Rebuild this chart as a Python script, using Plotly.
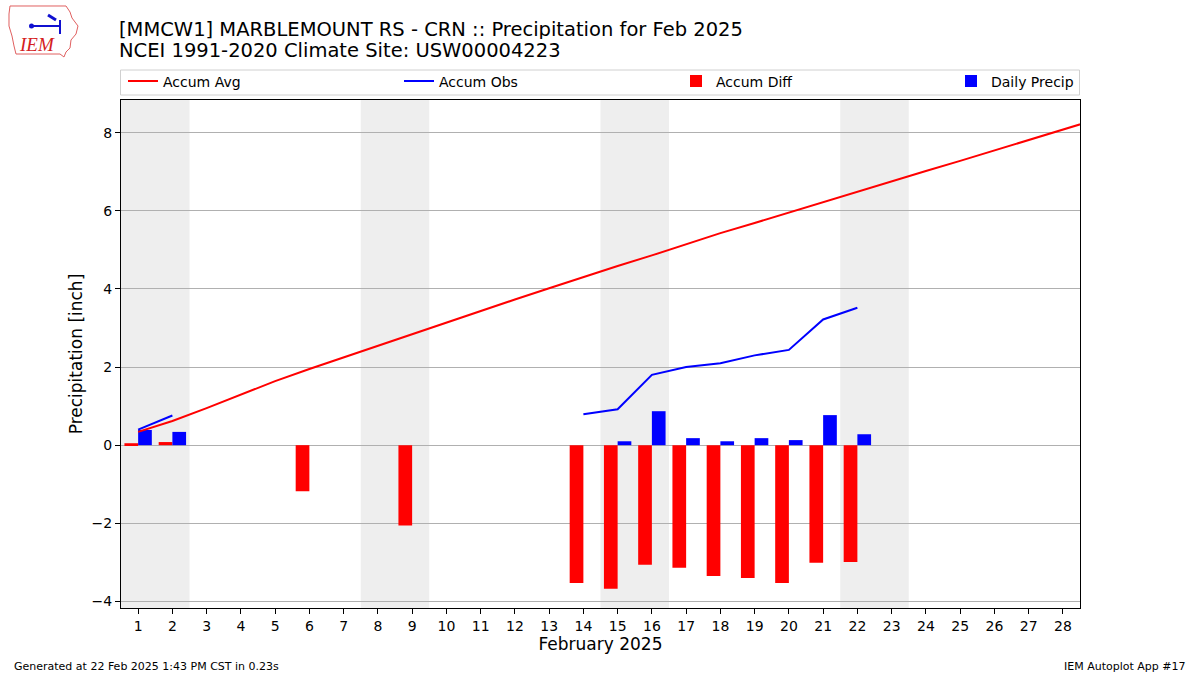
import plotly.graph_objects as go

# ---- data ----
days = list(range(1, 30))
accum_avg = [0.34, 0.62, 0.95, 1.30, 1.64, 1.95, 2.25, 2.55, 2.85, 3.15,
             3.45, 3.73, 4.02, 4.31, 4.59, 4.86, 5.14, 5.43, 5.69, 5.96,
             6.23, 6.50, 6.76, 7.02, 7.28, 7.55, 7.81, 8.08, 8.35]
obs_days = list(range(1, 23))
accum_obs = [0.40, 0.76, None, None, None, None, None, None, None, None,
             None, None, None, 0.79, 0.92, 1.80, 2.00, 2.10, 2.30, 2.44,
             3.22, 3.52]
diff_days = [1, 2, 6, 9, 14, 15, 16, 17, 18, 19, 20, 21, 22]
accum_diff = [0.05, 0.08, -1.18, -2.06, -3.53, -3.68, -3.06, -3.14, -3.35,
              -3.40, -3.53, -3.01, -2.99]
precip_days = [1, 2, 15, 16, 17, 18, 19, 20, 21, 22]
daily_precip = [0.39, 0.34, 0.10, 0.87, 0.18, 0.10, 0.18, 0.13, 0.77, 0.28]
weekend_saturdays = [1, 8, 15, 22]   # Feb 2025 Saturdays
tick_days = list(range(1, 29))

title1 = "[MMCW1] MARBLEMOUNT RS - CRN :: Precipitation for Feb 2025"
title2 = "NCEI 1991-2020 Climate Site: USW00004223"
footer_left = "Generated at 22 Feb 2025 1:43 PM CST in 0.23s"
footer_right = "IEM Autoplot App #17"

FONT = "DejaVu Sans"
W, HT = 1200, 675
L, R, T, B = 121, 120, 100, 67
PW = W - L - R
PH = HT - T - B


def xp(px):
    return (px - L) / PW


def yp(py):
    return (HT - B - py) / PH


fig = go.Figure()

fig.add_trace(go.Bar(x=diff_days, y=accum_diff, name="Accum Diff",
                     marker=dict(color="#ff0000", line=dict(width=0)),
                     width=0.4, offset=-0.4, legend="legend3"))
fig.add_trace(go.Bar(x=precip_days, y=daily_precip, name="Daily Precip",
                     marker=dict(color="#0000ff", line=dict(width=0)),
                     width=0.4, offset=0.0, legend="legend4"))
fig.add_trace(go.Scatter(x=days, y=accum_avg, name="Accum Avg", mode="lines",
                         line=dict(color="#ff0000", width=2), legend="legend"))
fig.add_trace(go.Scatter(x=obs_days, y=accum_obs, name="Accum Obs", mode="lines",
                         line=dict(color="#0000ff", width=2), connectgaps=False,
                         legend="legend2"))

shapes = []
for s in weekend_saturdays:
    shapes.append(dict(type="rect", xref="x", yref="paper", x0=s - 0.5, x1=s + 1.5,
                       y0=0, y1=1, fillcolor="#eeeeee", line=dict(width=0),
                       layer="below"))
# legend frame
shapes.append(dict(type="rect", xref="paper", yref="paper", x0=xp(120.5), x1=xp(1079.5),
                   y0=yp(95), y1=yp(70), line=dict(color="#d0d0d0", width=1),
                   fillcolor="rgba(255,255,255,0)", layer="above"))
# logo outline (decorative)
logo_pts = [(10, 6), (66, 6), (70, 12), (72, 18), (78, 26), (76, 34), (71, 40),
            (70, 48), (66, 52), (64, 57), (60, 54), (16, 54), (14, 46), (12, 36),
            (9, 26), (9, 14)]
path = "M " + " L ".join(f"{xp(x):.5f},{yp(y):.5f}" for x, y in logo_pts) + " Z"
shapes.append(dict(type="path", xref="paper", yref="paper", path=path,
                   line=dict(color="#e06060", width=1)))
shapes.append(dict(type="line", xref="paper", yref="paper", x0=xp(31), x1=xp(60),
                   y0=yp(26), y1=yp(26), line=dict(color="#1010d0", width=2)))
shapes.append(dict(type="line", xref="paper", yref="paper", x0=xp(60), x1=xp(60),
                   y0=yp(20), y1=yp(34), line=dict(color="#1010d0", width=2)))
shapes.append(dict(type="line", xref="paper", yref="paper", x0=xp(48), x1=xp(56),
                   y0=yp(15), y1=yp(20), line=dict(color="#1010d0", width=3)))
shapes.append(dict(type="circle", xref="paper", yref="paper", x0=xp(29), x1=xp(34),
                   y0=yp(28.5), y1=yp(23.5), fillcolor="#1010d0",
                   line=dict(color="#1010d0", width=0)))
fig.update_layout(shapes=shapes)

annotations = [
    dict(text=title1, x=xp(117.5), y=yp(29)),
    dict(text=title2, x=xp(117.5), y=yp(50)),
]
for a in annotations:
    a.update(xref="paper", yref="paper", xanchor="left", yanchor="middle",
             showarrow=False, height=20, borderpad=0,
             font=dict(family=FONT, size=19.5, color="black"))
annotations += [
    dict(text=footer_left, x=xp(12), y=yp(666), xref="paper", yref="paper",
         xanchor="left", yanchor="middle", showarrow=False,
         font=dict(family=FONT, size=11, color="black")),
    dict(text=footer_right, x=xp(1188), y=yp(666), xref="paper", yref="paper",
         xanchor="right", yanchor="middle", showarrow=False,
         font=dict(family=FONT, size=11, color="black")),
    dict(text="<i>IEM</i>", x=xp(37), y=yp(45), xref="paper", yref="paper",
         xanchor="center", yanchor="middle", showarrow=False,
         font=dict(family="Liberation Serif", size=19, color="#d42020")),
]
fig.update_layout(annotations=annotations)

leg_common = dict(orientation="h", xanchor="left", yanchor="middle", y=yp(81.5),
                  borderwidth=0, bgcolor="rgba(255,255,255,0)",
                  font=dict(family=FONT, size=14, color="black"))
text_starts = [164, 440, 717, 992]
legends = {}
for name, tx in zip(["legend", "legend2", "legend3", "legend4"], text_starts):
    legends[name] = dict(leg_common, x=xp(tx - 41))

fig.update_layout(
    width=W, height=HT,
    margin=dict(l=L, r=R, t=T, b=B, autoexpand=False),
    paper_bgcolor="white", plot_bgcolor="white",
    font=dict(family=FONT, size=14, color="black"),
    barmode="overlay",
    showlegend=True,
    **legends,
    xaxis=dict(range=[0.5, 28.5], tickmode="array", tickvals=tick_days,
               ticktext=[str(d) for d in tick_days], showgrid=False,
               zeroline=False, showline=True, linecolor="black", linewidth=1,
               mirror=True, ticks="outside", ticklen=5, tickcolor="black",
               tickfont=dict(size=14),
               title=dict(text="February 2025", font=dict(size=17), standoff=4)),
    yaxis=dict(range=[-4.17, 8.84], tickmode="array", tickvals=[-4, -2, 0, 2, 4, 6, 8],
               showgrid=True, gridcolor="#b0b0b0", gridwidth=1,
               zeroline=True, zerolinecolor="#b0b0b0", zerolinewidth=1,
               showline=True, linecolor="black", linewidth=1, mirror=True,
               ticks="outside", ticklen=5, tickcolor="black", tickfont=dict(size=14),
               title=dict(text="Precipitation [inch]", font=dict(size=17), standoff=4)),
)

fig.write_html("out.html", config={"displayModeBar": False},
               post_script="document.body.style.margin='0';")
